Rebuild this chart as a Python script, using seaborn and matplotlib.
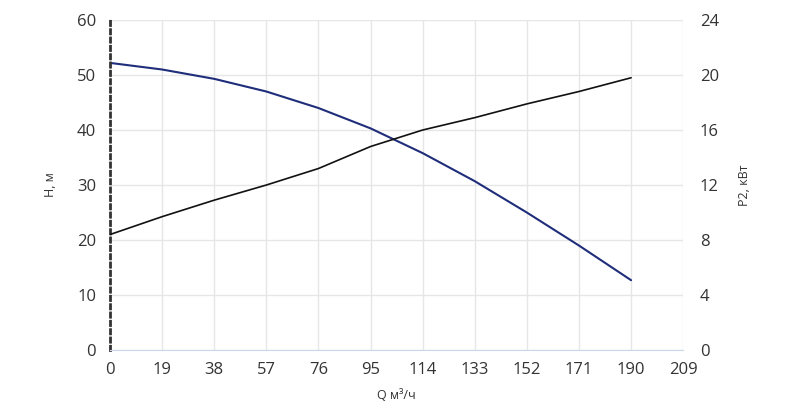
import matplotlib
matplotlib.use("Agg")
import matplotlib.pyplot as plt
import seaborn as sns
import numpy as np

q = [0, 19, 38, 57, 76, 95, 114, 133, 152, 171, 190]
h = [52.2, 51.0, 49.3, 47.0, 44.0, 40.3, 35.8, 30.7, 25.0, 19.0, 12.7]
p2 = [8.4, 9.7, 10.9, 12.0, 13.2, 14.8, 16.0, 16.9, 17.9, 18.8, 19.8]
xticks = [0, 19, 38, 57, 76, 95, 114, 133, 152, 171, 190, 209]

sns.set_style("white")
plt.rcParams['font.family'] = ['Open Sans', 'DejaVu Sans']
fig = plt.figure(figsize=(8, 4.08), dpi=100)
ax = fig.add_axes([0.1375, 0.142, 0.7165, 0.809])
ax2 = ax.twinx()

sns.lineplot(x=q, y=h, ax=ax, color="#1f2d7a", lw=1.5)
sns.lineplot(x=q, y=p2, ax=ax2, color="#111111", lw=1.2)

ax.set_xlim(0, 209); ax.set_ylim(0, 60); ax2.set_ylim(0, 24)
ax.set_xticks(xticks); ax.set_yticks(range(0, 61, 10)); ax2.set_yticks(range(0, 25, 4))
ax.grid(True, color="#e6e6e6", lw=1)
ax.set_axisbelow(True)
for a in (ax, ax2):
    for s in a.spines.values():
        s.set_visible(False)
ax.spines['left'].set_visible(True)
ax.spines['left'].set_color("#333333")
ax.spines['left'].set_linestyle((0, (1.5, 1.5)))
ax.spines['left'].set_linewidth(2)
ax.spines['bottom'].set_visible(True)
ax.spines['bottom'].set_color("#ccd6eb")
ax.tick_params(axis='y', length=0, labelsize=12, colors="#333333", pad=10)
ax.tick_params(axis='x', length=5, color="#ccd6eb", labelsize=12, labelcolor="#333333")
ax2.tick_params(axis='y', length=0, labelsize=12, colors="#333333", pad=12)
ax.set_xlabel("Q м³/ч", fontsize=9, color="#333333", labelpad=8)
ax.set_ylabel("H, м", fontsize=9, color="#333333", labelpad=14)
ax2.set_ylabel("P2, кВт", fontsize=9, color="#333333", labelpad=14)
fig.savefig("out.png", dpi=100)
